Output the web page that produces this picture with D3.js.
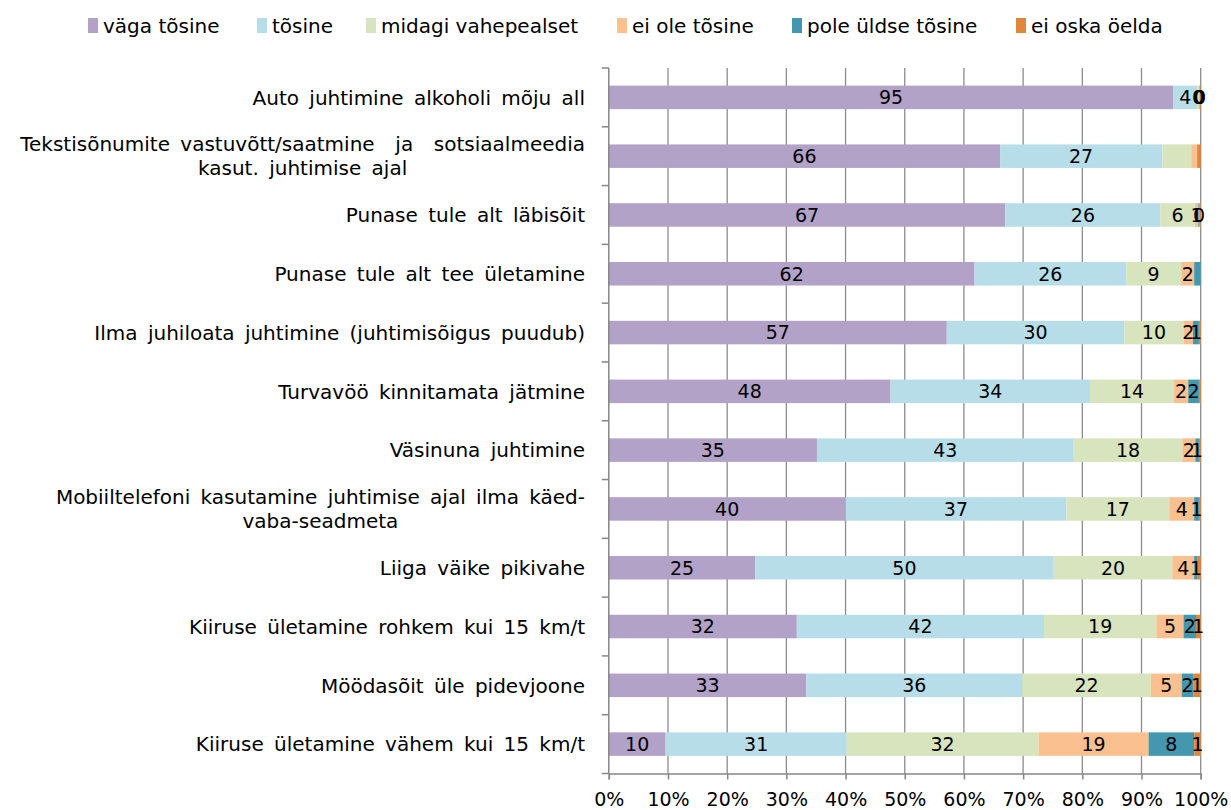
<!DOCTYPE html>
<html>
<head>
<meta charset="utf-8">
<script src="https://cdn.jsdelivr.net/npm/d3@7"></script>
<style>
  body { margin: 0; background: #fff; }
  text { font-family: "DejaVu Sans", Verdana, sans-serif; fill: #000; }
</style>
</head>
<body>
<svg width="1231" height="810"></svg>
<script>
const categories = [
  "Auto juhtimine alkoholi mõju all",
  "Tekstisõnumite vastuvõtt/saatmine  ja  sotsiaalmeedia\nkasut. juhtimise ajal",
  "Punase tule alt läbisõit",
  "Punase tule alt tee ületamine",
  "Ilma juhiloata juhtimine (juhtimisõigus puudub)",
  "Turvavöö kinnitamata jätmine",
  "Väsinuna juhtimine",
  "Mobiiltelefoni kasutamine juhtimise ajal ilma käed-\nvaba-seadmeta",
  "Liiga väike pikivahe",
  "Kiiruse ületamine rohkem kui 15 km/t",
  "Möödasõit üle pidevjoone",
  "Kiiruse ületamine vähem kui 15 km/t"
];
const seriesNames = ["väga tõsine", "tõsine", "midagi vahepealset", "ei ole tõsine", "pole üldse tõsine", "ei oska öelda"];
const seriesColors = ["#b3a2c7", "#b7dee8", "#d7e4bd", "#fac090", "#4398b0", "#e0873c"];

const vagaTosine = [95.4, 66.1, 67.0, 61.8, 57.1, 47.6, 35.1, 40.0, 24.7, 31.8, 33.3, 9.6];
const tosine     = [4.0, 27.4, 26.2, 25.6, 30.0, 33.7, 43.3, 37.3, 50.4, 41.8, 36.4, 30.6];
const midagi     = [0.3, 4.9, 5.8, 9.3, 10.0, 14.2, 18.3, 17.4, 20.0, 19.0, 21.7, 32.4];
const eiOle      = [0.1, 1.0, 0.6, 2.2, 1.6, 2.4, 2.2, 4.2, 3.7, 4.6, 5.2, 18.6];
const poleUldse  = [0.0, 0.0, 0.2, 1.1, 1.0, 1.8, 0.6, 0.8, 0.6, 2.1, 2.0, 7.7];
const eiOska     = [0.2, 0.6, 0.2, 0.0, 0.3, 0.3, 0.3, 0.3, 0.5, 0.8, 1.2, 1.1];

// [row, series] labels that the original chart does not show
const hiddenLabels = [[1,2],[1,3],[1,4],[1,5],[2,5],[3,4],[3,5],[4,5],[5,5],[6,5],[7,5],[8,5]];

const xTicks = [0, 0.1, 0.2, 0.3, 0.4, 0.5, 0.6, 0.7, 0.8, 0.9, 1];

const allSeries = [vagaTosine, tosine, midagi, eiOle, poleUldse, eiOska];
const rows = categories.map((c, i) => {
  const r = { cat: c, idx: i };
  seriesNames.forEach((s, j) => r[s] = allSeries[j][i]);
  return r;
});

const svg = d3.select("svg");
const plotLeft = 608.8, plotRight = 1200.7, plotTop = 68, plotBottom = 773.5;

const x = d3.scaleLinear().domain([0, 1]).range([plotLeft, plotRight]);
const y = d3.scaleBand().domain(d3.range(categories.length)).range([plotTop, plotBottom])
  .paddingInner(0.6).paddingOuter(0.3);

const stack = d3.stack().keys(seriesNames).offset(d3.stackOffsetExpand);
const stacked = stack(rows);

// gridlines
svg.append("g").selectAll("line")
  .data(xTicks.slice(1))
  .join("line")
    .attr("x1", d => x(d)).attr("x2", d => x(d))
    .attr("y1", plotTop).attr("y2", plotBottom)
    .attr("stroke", "#8c8c8c").attr("stroke-width", 1.3);

// bars
const layers = svg.append("g").selectAll("g")
  .data(stacked)
  .join("g")
    .attr("fill", (d, i) => seriesColors[i]);

layers.selectAll("rect")
  .data(d => d)
  .join("rect")
    .attr("x", d => x(d[0]))
    .attr("y", (d, i) => y(i))
    .attr("width", d => Math.max(0, x(d[1]) - x(d[0])))
    .attr("height", y.bandwidth());

// data labels
const fmt = d3.format(".0f");
const isHidden = (r, s) => hiddenLabels.some(h => h[0] === r && h[1] === s);
stacked.forEach((layer, si) => {
  svg.append("g").selectAll("text")
    .data(layer.filter((d, i) => !isHidden(i, si)))
    .join("text")
      .attr("x", d => x((d[0] + d[1]) / 2))
      .attr("y", d => y(d.data.idx) + y.bandwidth() / 2)
      .attr("dy", "0.36em")
      .attr("text-anchor", "middle")
      .attr("font-size", 19)
      .text(d => fmt(d.data[seriesNames[si]]));
});

// y axis line and ticks
svg.append("line")
  .attr("x1", plotLeft).attr("x2", plotLeft).attr("y1", plotTop).attr("y2", plotBottom)
  .attr("stroke", "#868686").attr("stroke-width", 1.5);
svg.append("g").selectAll("line")
  .data(d3.range(categories.length + 1))
  .join("line")
    .attr("x1", plotLeft - 7).attr("x2", plotLeft)
    .attr("y1", d => plotTop + d * y.step()).attr("y2", d => plotTop + d * y.step())
    .attr("stroke", "#868686").attr("stroke-width", 1.5);

// x axis
const xAxis = d3.axisBottom(x).tickValues(xTicks).tickFormat(d3.format(".0%")).tickSize(6);
const gx = svg.append("g").attr("transform", `translate(0,${plotBottom})`).call(xAxis);
gx.select(".domain").attr("stroke", "#868686").attr("stroke-width", 1.5);
gx.selectAll(".tick line").attr("stroke", "#868686").attr("stroke-width", 1.5);
gx.selectAll(".tick text").attr("font-size", 19).attr("font-family", "DejaVu Sans").attr("fill", "#000")
  .attr("y", 25.5).attr("dy", "0.36em");

// category labels
const catG = svg.append("g");
categories.forEach((c, i) => {
  const lines = c.split("\n");
  const t = catG.append("text").attr("font-size", 20).attr("text-anchor", "middle")
    .style("white-space", "pre").style("word-spacing", "4px");
  lines.forEach((ln, k) => t.append("tspan").attr("x", 0).attr("dy", k === 0 ? "0.36em" : 24).text(ln));
  const w = d3.max(t.selectAll("tspan").nodes(), n => n.getComputedTextLength());
  const cy = y(i) + y.bandwidth() / 2;
  const h = (lines.length - 1) * 24;
  t.attr("transform", `translate(${585 - w / 2},${cy - h / 2})`);
});

// legend
const legendX = [88, 257, 366, 617, 792, 1016];
const lg = svg.append("g").selectAll("g")
  .data(seriesNames)
  .join("g")
    .attr("transform", (d, i) => `translate(${legendX[i]},18)`);
lg.append("rect").attr("width", 10).attr("height", 15).attr("fill", (d, i) => seriesColors[i]);
lg.append("text").attr("x", 15).attr("y", 7.5).attr("dy", "0.36em").attr("font-size", 20).text(d => d);
</script>
</body>
</html>
